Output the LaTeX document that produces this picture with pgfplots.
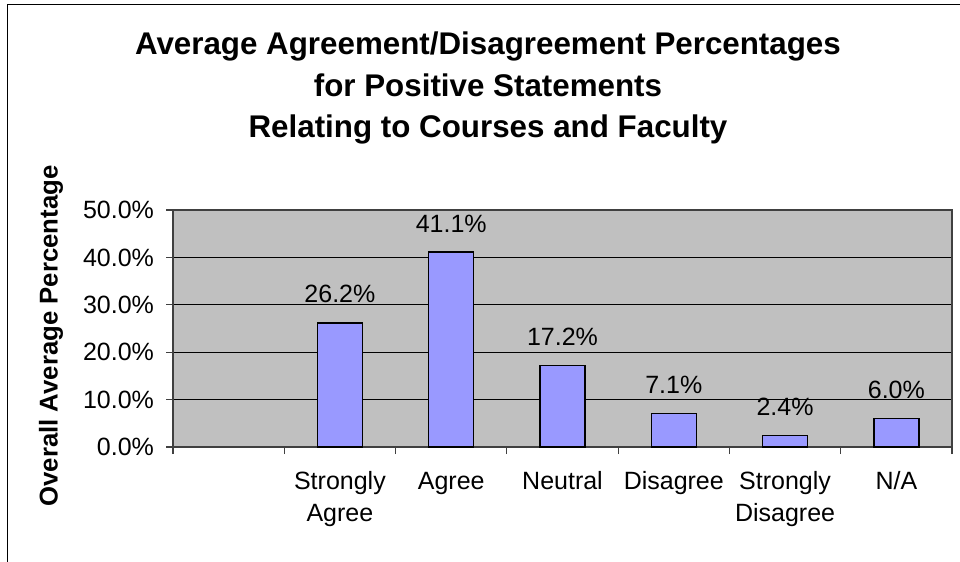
\documentclass[border=0pt]{standalone}
\usepackage{fontspec}
\setmainfont{Liberation Sans}
\usepackage{pgfplots}
\pgfplotsset{compat=1.18}
\definecolor{barfill}{HTML}{9999FF}
\definecolor{plotbg}{HTML}{C0C0C0}
\begin{document}
\begin{tikzpicture}[x=1pt,y=1pt]
\useasboundingbox (0,0) rectangle (720,420.75);
\draw[line width=1.1pt] (5.5,-20) -- (5.5,417.2) -- (740,417.2);
\begin{axis}[
  at={(129.75pt,85.5pt)}, anchor=south west,
  scale only axis, width=584.25pt, height=177.75pt,
  xmin=-0.5, xmax=6.5, ymin=0, ymax=50,
  axis background/.style={fill=plotbg},
  axis line style={draw=black!75, line width=0.8pt},
  ybar, bar width=33.75pt,
  xtick pos=bottom, ytick pos=left,
  xtick={1,2,3,4,5,6},
  xticklabels={\strut Strongly\\Agree, \strut Agree, \strut Neutral, \strut Disagree, \strut Strongly\\Disagree, \strut N/A},
  xticklabel style={align=center, anchor=north, font=\fontsize{18.75}{24}\selectfont, yshift=-6pt},
  major x tick style={draw=none},
  minor xtick={-0.5,0.5,1.5,2.5,3.5,4.5,5.5,6.5},
  minor x tick style={draw=black!75, line width=0.8pt},
  tick align=outside,
  major tick length=5.25pt, minor tick length=5.25pt,
  ytick={0,10,20,30,40,50},
  ytick style={draw=black!75, line width=0.8pt},
  ymajorgrids, grid style={black, line width=0.6pt},
  yticklabel={\pgfmathprintnumber[fixed,fixed zerofill,precision=1]{\tick}\%},
  /pgf/number format/assume math mode=true,
  yticklabel style={font=\fontsize{18.75}{22}\selectfont, xshift=-5.5pt},
  nodes near coords={\pgfmathprintnumber[fixed,fixed zerofill,precision=1,assume math mode=true]{\pgfplotspointmeta}\%},
  nodes near coords style={anchor=base, yshift=15pt, font=\fontsize{18.75}{22}\selectfont, black},
]
\addplot[fill=barfill, draw=black, line width=1.1pt] coordinates {
  (1,26.2) (2,41.1) (3,17.2) (4,7.1) (5,2.4) (6,6.0)
};
\end{axis}
\node[rotate=90, font=\bfseries\fontsize{19.3}{23}\selectfont] at (38.25,168.75) {Overall Average Percentage};
\node[anchor=base, font=\bfseries\fontsize{23.5}{28}\selectfont] at (366,379.5) {Average Agreement/Disagreement Percentages};
\node[anchor=base, font=\bfseries\fontsize{23.5}{28}\selectfont] at (366,348.4) {for Positive Statements};
\node[anchor=base, font=\bfseries\fontsize{23.5}{28}\selectfont] at (366,317.25) {Relating to Courses and Faculty};
\end{tikzpicture}
\end{document}
